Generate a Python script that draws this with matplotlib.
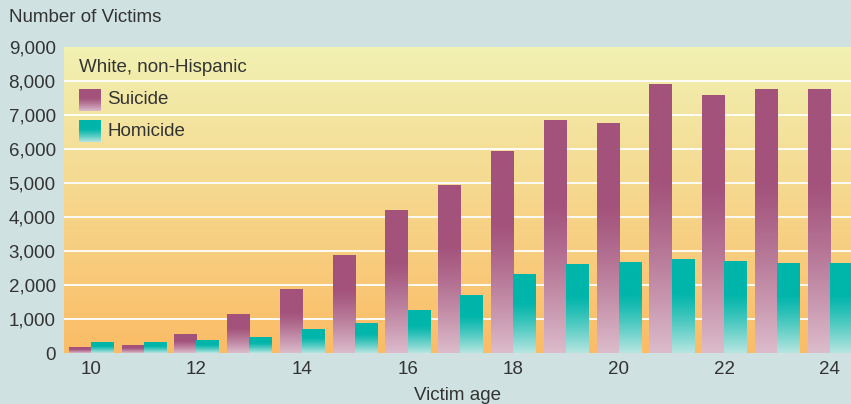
import numpy as np
import matplotlib
matplotlib.use("Agg")
import matplotlib.pyplot as plt
from matplotlib.colors import to_rgb

plt.rcParams['font.family'] = ['Liberation Sans', 'DejaVu Sans']

# data
ages = [10, 11, 12, 13, 14, 15, 16, 17, 18, 19, 20, 21, 22, 23, 24]
suicide = [175, 235, 530, 1120, 1880, 2880, 4180, 4940, 5940, 6850, 6760, 7910, 7560, 7760, 7760]
homicide = [320, 320, 380, 470, 680, 880, 1240, 1680, 2320, 2590, 2650, 2760, 2700, 2620, 2620]
y_ticks = [0, 1000, 2000, 3000, 4000, 5000, 6000, 7000, 8000, 9000]
x_ticks = [10, 12, 14, 16, 18, 20, 22, 24]

txt = '#333333'
bg = '#cfe2e1'
sui_top, sui_bot = '#a3527b', '#dcbccb'
hom_top, hom_bot = '#00b5aa', '#b8e6e1'
fs = 13.5


def gradient(top, bot, n=200, start=0.3, power=1.2):
    t = np.linspace(0, 1, n)
    f = np.clip((t - start) / (1 - start), 0, 1) ** power
    a, b = np.array(to_rgb(top)), np.array(to_rgb(bot))
    return (a[None, :] + (b - a)[None, :] * f[:, None])[:, None, :]


fig = plt.figure(figsize=(8.51, 4.04), dpi=100, facecolor=bg)
ax = fig.add_axes([64 / 851, 51 / 404, 1 - 64 / 851, 306 / 404])

# background of the plot area, yellow to orange
bgimg = gradient('#f1f1b2', '#fbbc66', start=0.0, power=1.0)
ax.imshow(bgimg, extent=(0, 1, 0, 1), transform=ax.transAxes, aspect='auto', zorder=0)

for y in y_ticks[1:-1]:
    ax.axhline(y, color='white', lw=1.3, zorder=1)

w = 0.42
x = np.array(ages)
b1 = ax.bar(x - w / 2, suicide, w, color='none', zorder=2)
b2 = ax.bar(x + w / 2, homicide, w, color='none', zorder=2)
g1 = gradient(sui_top, sui_bot, start=0.35)
g2 = gradient(hom_top, hom_bot, start=0.35)
for bars, g in ((b1, g1), (b2, g2)):
    for r in bars:
        x0, h = r.get_x(), r.get_height()
        ax.imshow(g, extent=(x0, x0 + r.get_width(), 0, h), aspect='auto', zorder=2)

ax.set_xlim(9.49, 24.40)
ax.set_ylim(0, 9000)
ax.set_xticks(x_ticks)
ax.set_xticklabels([str(a) for a in x_ticks])
ax.set_yticks(y_ticks)
ax.set_yticklabels([f'{v:,}' for v in y_ticks])
ax.tick_params(length=0, labelsize=fs, colors=txt, pad=6)
ax.tick_params(axis='x', pad=6)
for s in ax.spines.values():
    s.set_visible(False)

fig.text(9 / 851, 1 - 18 / 404, 'Number of Victims', fontsize=fs, color=txt, va='center', ha='left')
ax.set_xlabel('Victim age', fontsize=fs, color=txt, labelpad=6)

# legend drawn by hand
fig.text(79 / 851, 1 - 68 / 404, 'White, non-Hispanic', fontsize=fs, color=txt, va='center')
for i, (lab, g) in enumerate((('Suicide', gradient(sui_top, sui_bot, start=0.4)),
                              ('Homicide', gradient(hom_top, hom_bot, start=0.4)))):
    top = 89 + i * 31
    sax = fig.add_axes([79 / 851, 1 - (top + 22) / 404, 22 / 851, 22 / 404])
    sax.imshow(g, aspect='auto')
    sax.axis('off')
    fig.text(107 / 851, 1 - (top + 11) / 404, lab, fontsize=fs, color=txt, va='center')

fig.savefig('out.png', dpi=100, facecolor=bg)
